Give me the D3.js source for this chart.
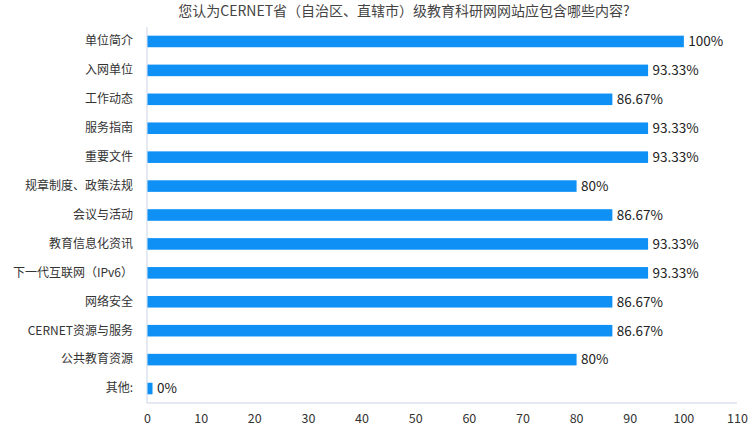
<!DOCTYPE html>
<html><head><meta charset="utf-8">
<script src="https://cdn.jsdelivr.net/npm/d3@7"></script>
<style>body{margin:0;background:#fff;}svg{display:block;font-family:"Noto Sans CJK SC","Noto Sans",sans-serif;}</style>
</head><body>
<svg id="c" width="755" height="434"></svg>
<script>
const title = "您认为CERNET省（自治区、直辖市）级教育科研网网站应包含哪些内容?";
const categories = ["单位简介","入网单位","工作动态","服务指南","重要文件","规章制度、政策法规","会议与活动","教育信息化资讯","下一代互联网（IPv6）","网络安全","CERNET资源与服务","公共教育资源","其他:"];
const values = [100,93.33,86.67,93.33,93.33,80,86.67,93.33,93.33,86.67,86.67,80,0];
const labels = ["100%","93.33%","86.67%","93.33%","93.33%","80%","86.67%","93.33%","93.33%","86.67%","86.67%","80%","0%"];
const xTicks = [0,10,20,30,40,50,60,70,80,90,100,110];

const svg = d3.select("#c");
const x = d3.scaleLinear().domain([0,110]).range([147,737]);
const y = d3.scaleBand().domain(categories).range([27,403]).paddingInner(0.6).paddingOuter(0.3);

svg.append("text").attr("x",404).attr("y",16).attr("text-anchor","middle")
  .attr("font-size",14).attr("fill","#444").text(title);

svg.append("line").attr("x1",x(0)).attr("x2",x(0)).attr("y1",27).attr("y2",403).attr("stroke","#c9d3e6");
svg.append("line").attr("x1",x(0)).attr("x2",x(110)).attr("y1",403).attr("y2",403).attr("stroke","#c9d3e6");

const xAxis = d3.axisBottom(x).tickValues(xTicks).tickSize(0).tickPadding(11).tickFormat(d3.format("d"));
const gx = svg.append("g").attr("transform","translate(0,403)").call(xAxis);
gx.select(".domain").remove();
gx.selectAll("text").attr("font-size",12.5).attr("fill","#333").attr("font-family","'Noto Sans CJK SC','Noto Sans',sans-serif");

const yAxis = d3.axisLeft(y).tickSize(0).tickPadding(14);
const gy = svg.append("g").attr("transform",`translate(${x(0)},0)`).call(yAxis);
gy.select(".domain").remove();
gy.selectAll("text").attr("font-size",12).attr("fill","#333").attr("font-family","'Noto Sans CJK SC','Noto Sans',sans-serif");

const data = categories.map((c,i)=>({c, v:values[i], l:labels[i]}));
svg.selectAll("rect.bar").data(data).enter().append("rect")
  .attr("x",x(0)+0.5).attr("y",d=>y(d.c)).attr("height",y.bandwidth())
  .attr("width",d=>Math.max(5, x(d.v)-x(0)))
  .attr("fill","#0e90f5");
svg.selectAll("text.val").data(data).enter().append("text")
  .attr("x",d=>x(0)+Math.max(5,x(d.v)-x(0))+5).attr("y",d=>y(d.c)+y.bandwidth()/2)
  .attr("dy","0.36em").attr("font-size",13.5).attr("fill","#222").text(d=>d.l);
</script>
</body></html>
